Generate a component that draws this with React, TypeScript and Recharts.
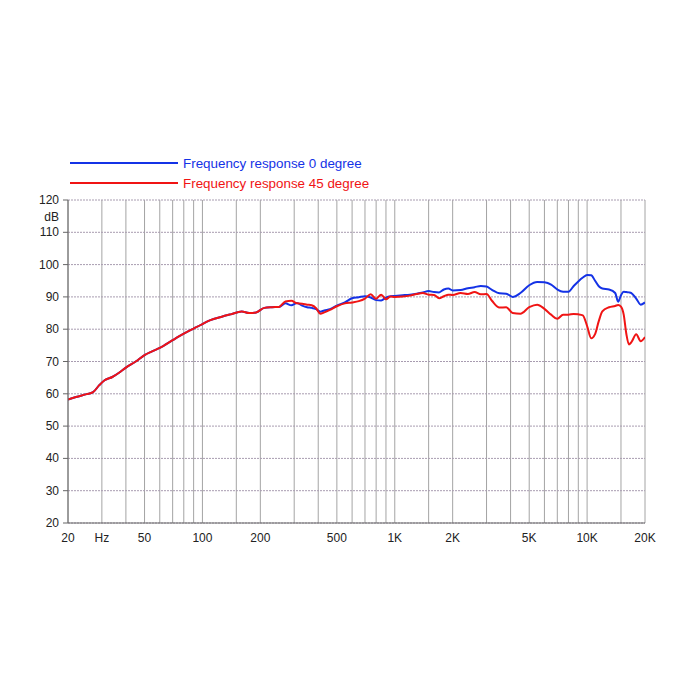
import React from 'react';
import { LineChart, Line, XAxis, YAxis, CartesianGrid, Legend } from 'recharts';

// frequency points (Hz)
const freqs = [
  20, 22, 25, 27, 29, 31, 34, 37, 40, 45, 50, 55, 60, 70, 80, 90, 100, 110, 125, 140, 160, 175, 190, 210, 230, 250,
  270, 290, 310, 330, 350, 370, 390, 410, 430, 460, 500, 550, 600, 650, 700, 750, 800, 850, 900, 950,
  1000, 1100, 1200, 1300, 1400, 1500, 1600, 1700, 1800, 1900, 2000, 2200, 2400, 2600, 2800, 3000, 3200, 3500, 3800, 4100,
  4500, 5000, 5500, 6000, 6500, 7000, 7500, 8000, 8500, 9000, 9500, 10000, 10500, 11000, 11500, 12000, 13000, 14000, 14500, 15000,
  15500, 16000, 16500, 17000, 18000, 19000, 20000,
];

// dB, 0 degree
const deg0 = [
  58.2, 59.0, 59.9, 60.5, 62.6, 64.2, 65.2, 66.6, 68.1, 70.0, 72.0, 73.2, 74.2, 76.6, 78.6, 80.2, 81.6, 82.8, 83.8, 84.6, 85.5, 85.0, 85.2, 86.6, 86.8, 86.9,
  88.0, 87.4, 88.1, 87.3, 86.8, 86.6, 86.2, 85.4, 85.8, 86.2, 87.3, 88.3, 89.6, 89.9, 90.2, 89.8, 89.0, 88.9, 89.8, 90.2,
  90.3, 90.5, 90.7, 91.0, 91.4, 91.8, 91.5, 91.4, 92.3, 92.6, 92.0, 92.1, 92.7, 93.0, 93.4, 93.2, 92.2, 91.1, 91.0, 90.0,
  91.2, 93.6, 94.6, 94.5, 93.8, 92.3, 91.6, 91.6, 93.3, 94.8, 96.0, 96.8, 96.7, 95.0, 93.3, 92.6, 92.3, 91.2, 88.5, 90.5,
  91.6, 91.5, 91.4, 91.2, 89.5, 87.6, 88.3,
];

// dB, 45 degree
const deg45 = [
  58.2, 59.0, 59.9, 60.5, 62.6, 64.2, 65.2, 66.6, 68.1, 70.0, 72.0, 73.2, 74.2, 76.6, 78.6, 80.2, 81.6, 82.8, 83.8, 84.6, 85.5, 85.0, 85.2, 86.6, 86.8, 86.9,
  88.6, 88.8, 88.0, 87.9, 87.6, 87.4, 86.5, 84.8, 85.2, 86.0, 87.1, 88.0, 88.3, 88.7, 89.5, 90.8, 89.4, 90.7, 89.3, 90.1,
  90.0, 90.1, 90.4, 90.9, 91.2, 90.7, 90.6, 89.6, 90.2, 90.7, 90.6, 91.2, 90.9, 91.5, 90.8, 90.9, 88.8, 86.7, 86.8, 85.0,
  84.8, 86.8, 87.6, 86.3, 84.5, 83.2, 84.5, 84.5, 84.7, 84.6, 84.3, 81.0, 77.2, 78.5, 82.5, 85.5, 86.8, 87.2, 87.5, 87.0,
  84.5, 78.5, 75.3, 76.0, 78.4, 76.3, 77.6,
];

const gridFreqs = [
  20, 30, 40, 50, 60, 70, 80, 90, 100, 150, 200, 300, 400, 500, 600, 700, 800, 900,
  1000, 1500, 2000, 3000, 4000, 5000, 6000, 7000, 8000, 9000, 10000, 15000, 20000,
];
const freqLabels: Record<number, string> = {
  20: '20', 30: 'Hz', 50: '50', 100: '100', 200: '200', 500: '500',
  1000: '1K', 2000: '2K', 5000: '5K', 10000: '10K', 20000: '20K',
};
const dbTicks = [20, 30, 40, 50, 60, 70, 80, 90, 100, 110, 120];

const data = freqs.map((f, i) => ({ f, deg0: deg0[i], deg45: deg45[i] }));

const FONT = '"Liberation Sans", Arial, sans-serif';
const BLUE = '#1432e6';
const RED = '#f01414';

const series = [
  { key: 'deg0', color: BLUE, name: 'Frequency response 0 degree' },
  { key: 'deg45', color: RED, name: 'Frequency response 45 degree' },
];

function DbTick(props: any) {
  const { x, y, payload } = props;
  return (
    <g>
      <text x={x - 2} y={y} dy={4} textAnchor="end" fontSize={12} fill="#222" fontFamily={FONT}>
        {payload.value}
      </text>
      {payload.value === 120 && (
        <text x={x - 2} y={y + 17} dy={4} textAnchor="end" fontSize={12} fill="#222" fontFamily={FONT}>
          dB
        </text>
      )}
    </g>
  );
}

function renderLegend() {
  return (
    <div style={{ fontFamily: FONT, fontSize: 13.4 }}>
      {series.map(s => (
        <div key={s.key} style={{ display: 'flex', alignItems: 'center', height: 20 }}>
          <div style={{ width: 108, height: 2, background: s.color, marginRight: 5 }} />
          <span style={{ color: s.color }}>{s.name}</span>
        </div>
      ))}
    </div>
  );
}

export default function App() {
  return (
    <div style={{ position: 'absolute', left: 0, top: 0, width: 700, height: 700, background: '#fff' }}>
      <LineChart width={700} height={700} data={data} margin={{ top: 200, right: 55, left: 28, bottom: 147 }}>
        <CartesianGrid horizontal={false} stroke="#a4a4a4" strokeWidth={1} />
        <CartesianGrid vertical={false} stroke="#a89cb0" strokeDasharray="2 1" strokeWidth={1} />
        <XAxis
          dataKey="f"
          type="number"
          scale="log"
          domain={[20, 20000]}
          ticks={gridFreqs}
          interval={0}
          allowDataOverflow
          tickFormatter={(v: number) => freqLabels[v] ?? ''}
          tickLine={false}
          axisLine={{ stroke: '#666' }}
          tick={{ fontSize: 12, fill: '#222', fontFamily: FONT }}
          tickMargin={4}
          height={30}
        />
        <YAxis
          type="number"
          domain={[20, 120]}
          ticks={dbTicks}
          interval={0}
          width={40}
          axisLine={{ stroke: '#666' }}
          tickLine={{ stroke: '#666' }}
          tickSize={5}
          tick={<DbTick />}
        />
        <Legend
          layout="vertical"
          verticalAlign="middle"
          align="center"
          content={renderLegend}
          wrapperStyle={{ top: 153, left: 70, width: 330 }}
        />
        {series.map(s => (
          <Line
            key={s.key}
            dataKey={s.key}
            stroke={s.color}
            strokeWidth={2}
            dot={false}
            type="monotone"
            isAnimationActive={false}
          />
        ))}
      </LineChart>
    </div>
  );
}
